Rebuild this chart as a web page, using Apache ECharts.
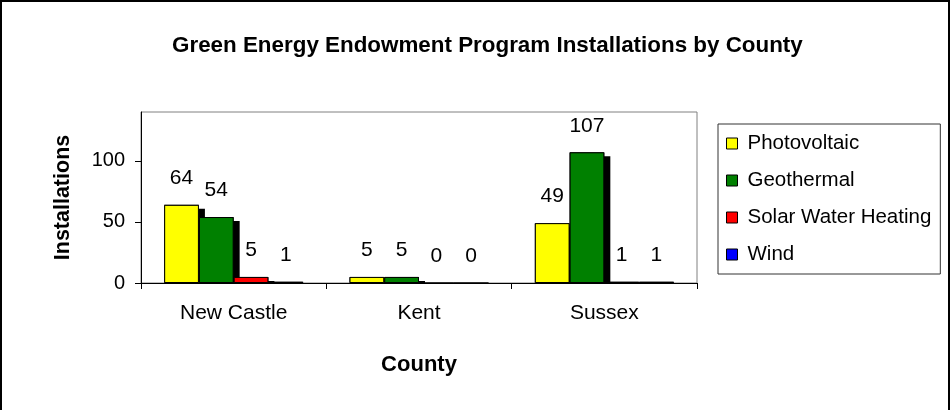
<!DOCTYPE html>
<html>
<head>
<meta charset="utf-8">
<script src="https://cdn.jsdelivr.net/npm/echarts@6/dist/echarts.min.js"></script>
<style>
html,body{margin:0;padding:0;background:#fff;}
#c{width:951px;height:410px;}
</style>
</head>
<body>
<div id="c"></div>
<script>
var categories = ['New Castle', 'Kent', 'Sussex'];
var seriesNames = ['Photovoltaic', 'Geothermal', 'Solar Water Heating', 'Wind'];
var photovoltaic = [64, 5, 49];
var geothermal = [54, 5, 107];
var solarWaterHeating = [5, 0, 1];
var wind = [1, 0, 1];
var yTicks = [0, 50, 100];

var FONT = '"Liberation Sans", Arial, sans-serif';
var COLORS = ['#FFFF00', '#008000', '#FF0000', '#0000FF'];
var DATA = [photovoltaic, geothermal, solarWaterHeating, wind];

var chart = echarts.init(document.getElementById('c'), null, {renderer: 'canvas'});

// shadow layer (axis 0) drawn first, then bordered bars (axis 1) on top
function shadowSeries(i) {
  return {
    name: seriesNames[i], type: 'bar', data: DATA[i], z: 1, xAxisIndex: 0,
    barGap: '0%', barCategoryGap: '25%', silent: true,
    itemStyle: {color: '#000', shadowColor: '#000', shadowBlur: 0, shadowOffsetX: 6, shadowOffsetY: 4},
    label: {show: false}
  };
}
function mainSeries(i) {
  return {
    name: seriesNames[i], type: 'bar', data: DATA[i], z: 1.5, xAxisIndex: 1,
    barGap: '0%', barCategoryGap: '25%',
    itemStyle: {color: COLORS[i], borderColor: '#000', borderWidth: 1},
    label: {show: true, position: 'top', distance: 16, color: '#000', fontFamily: FONT, fontSize: 21}
  };
}

var gLeft = 141, gTop = 112, gRight = 951 - 697, gBottom = 410 - 283;

var series = [];
for (var i = 0; i < 4; i++) series.push(shadowSeries(i));
for (var j = 0; j < 4; j++) series.push(mainSeries(j));

chart.setOption({
  backgroundColor: '#fff',
  animation: false,
  color: COLORS,
  title: {
    text: 'Green Energy Endowment Program Installations by County',
    left: 167, top: 30,
    textStyle: {fontFamily: FONT, fontSize: 22.4, fontWeight: 'bold', color: '#000'}
  },
  grid: {left: gLeft, top: gTop, right: gRight, bottom: gBottom, show: true, borderColor: '#808080', borderWidth: 1},
  legend: {
    data: seriesNames.map(function (n, k) { return {name: n, itemStyle: {color: COLORS[k]}}; }),
    orient: 'vertical', left: 718, top: 124,
    padding: [9, 9, 9, 8], itemGap: 16,
    itemWidth: 11, itemHeight: 11, icon: 'rect',
    backgroundColor: '#fff', borderColor: '#333', borderWidth: 1,
    itemStyle: {borderColor: '#000', borderWidth: 1, shadowBlur: 0, shadowOffsetX: 0, shadowOffsetY: 0, shadowColor: 'transparent'},
    textStyle: {fontFamily: FONT, fontSize: 20.5, color: '#000', lineHeight: 20, padding: [0, 0, 0, 5]}
  },
  xAxis: [{
    type: 'category', data: categories, z: 3,
    name: 'County', nameLocation: 'middle', nameGap: 71,
    nameTextStyle: {fontFamily: FONT, fontSize: 22, fontWeight: 'bold', color: '#000'},
    axisLine: {lineStyle: {color: '#000', width: 1}},
    axisTick: {show: true, inside: false, length: 6, lineStyle: {color: '#000'}},
    axisLabel: {fontFamily: FONT, fontSize: 21, color: '#000', margin: 20}
  }, {
    type: 'category', data: categories, show: false
  }],
  yAxis: {
    type: 'value', min: 0, max: 140, interval: 50, z: 3,
    name: 'Installations', nameLocation: 'middle', nameGap: 67,
    nameTextStyle: {fontFamily: FONT, fontSize: 21.5, fontWeight: 'bold', color: '#000'},
    axisLine: {show: true, lineStyle: {color: '#000', width: 1}},
    axisTick: {show: true, length: 6, lineStyle: {color: '#000'}, customValues: yTicks},
    axisLabel: {fontFamily: FONT, fontSize: 20, color: '#000', margin: 16, customValues: yTicks},
    splitLine: {show: false}
  },
  graphic: [
    {type: 'rect', z: 2, silent: true, shape: {x: gLeft - 3, y: 410 - gBottom + 1, width: 951 - gRight - gLeft + 20, height: 8}, style: {fill: '#fff'}},
    {type: 'rect', z: 0, silent: true, shape: {x: 1, y: 1, width: 948, height: 430}, style: {fill: 'none', stroke: '#000', lineWidth: 2}}
  ],
  series: series
});
</script>
</body>
</html>
